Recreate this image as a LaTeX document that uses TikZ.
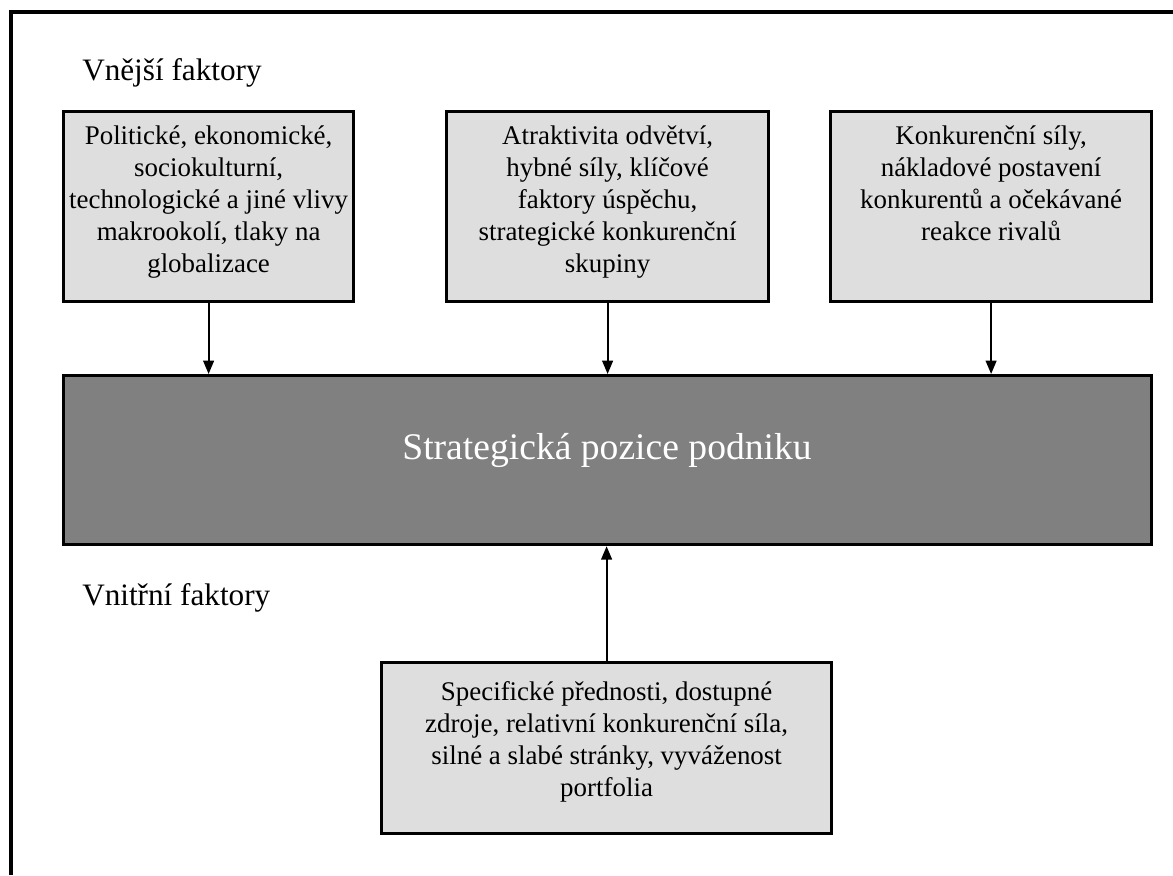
\documentclass[tikz,border=0pt]{standalone}
\usepackage{fontspec}
\setmainfont{Liberation Serif}
\usetikzlibrary{arrows.meta}
\definecolor{lightpanel}{RGB}{222,222,222}
\definecolor{corepanel}{RGB}{128,128,128}
\begin{document}
\begin{tikzpicture}[x=0.75pt,y=-0.75pt,
  panel/.style={draw=black, line width=2.4pt, fill=lightpanel, inner sep=0pt,
    anchor=north west},
  corebox/.style={panel, fill=corepanel},
  paneltext/.style={anchor=north, inner sep=0pt, align=center,
    font=\fontsize{20.2pt}{24pt}\selectfont},
  heading/.style={anchor=base west, inner sep=0pt,
    font=\fontsize{23.4pt}{28pt}\selectfont},
  flow/.style={line width=1.5pt, -{Triangle[length=10pt,width=8pt]}}]

\useasboundingbox (0,0) rectangle (1173,875);

% open outer frame: top and left edges only
\draw[line width=3.4pt] (11,875) -- (11,12) -- (1173,12);

% headings
\node[heading] (ext) at (82,80) {Vnější faktory};
\node[heading] (int) at (82,605) {Vnitřní faktory};

% external factor panels
\node[panel, minimum width=217.5pt, minimum height=142.5pt] (p1) at (62,110) {};
\node[panel, minimum width=241.5pt, minimum height=142.5pt] (p2) at (445,110) {};
\node[panel, minimum width=240.75pt, minimum height=142.5pt] (p3) at (829,110) {};

\node[paneltext] (p1t) at (p1.north |- 0,125)
  {Politické, ekonomické,\\ sociokulturní,\\ technologické a jiné vlivy\\ makrookolí, tlaky na\\ globalizace};
\node[paneltext] (p2t) at (p2.north |- 0,125)
  {Atraktivita odvětví,\\ hybné síly, klíčové\\ faktory úspěchu,\\ strategické konkurenční\\ skupiny};
\node[paneltext] (p3t) at (p3.north |- 0,125)
  {Konkurenční síly,\\ nákladové postavení\\ konkurentů a očekávané\\ reakce rivalů};

% central panel
\node[corebox, minimum width=816pt, minimum height=126.75pt] (core) at (62,374) {};
\node[anchor=base, inner sep=0pt, text=white,
  font=\fontsize{28.2pt}{34pt}\selectfont] (coret) at (607,459)
  {Strategická pozice podniku};

% internal factor panel
\node[panel, minimum width=337.5pt, minimum height=128.25pt] (p4) at (380,661) {};
\node[paneltext] (p4t) at (p4.north |- 0,681)
  {Specifické přednosti, dostupné\\ zdroje, relativní konkurenční síla,\\ silné a slabé stránky, vyváženost\\ portfolia};

% influences
\draw[flow] (p1.south) -- (p1.south |- core.north);
\draw[flow] (p2.south) -- (p2.south |- core.north);
\draw[flow] (p3.south) -- (p3.south |- core.north);
\draw[flow] (p4.north) -- (p4.north |- core.south);
\end{tikzpicture}
\end{document}
